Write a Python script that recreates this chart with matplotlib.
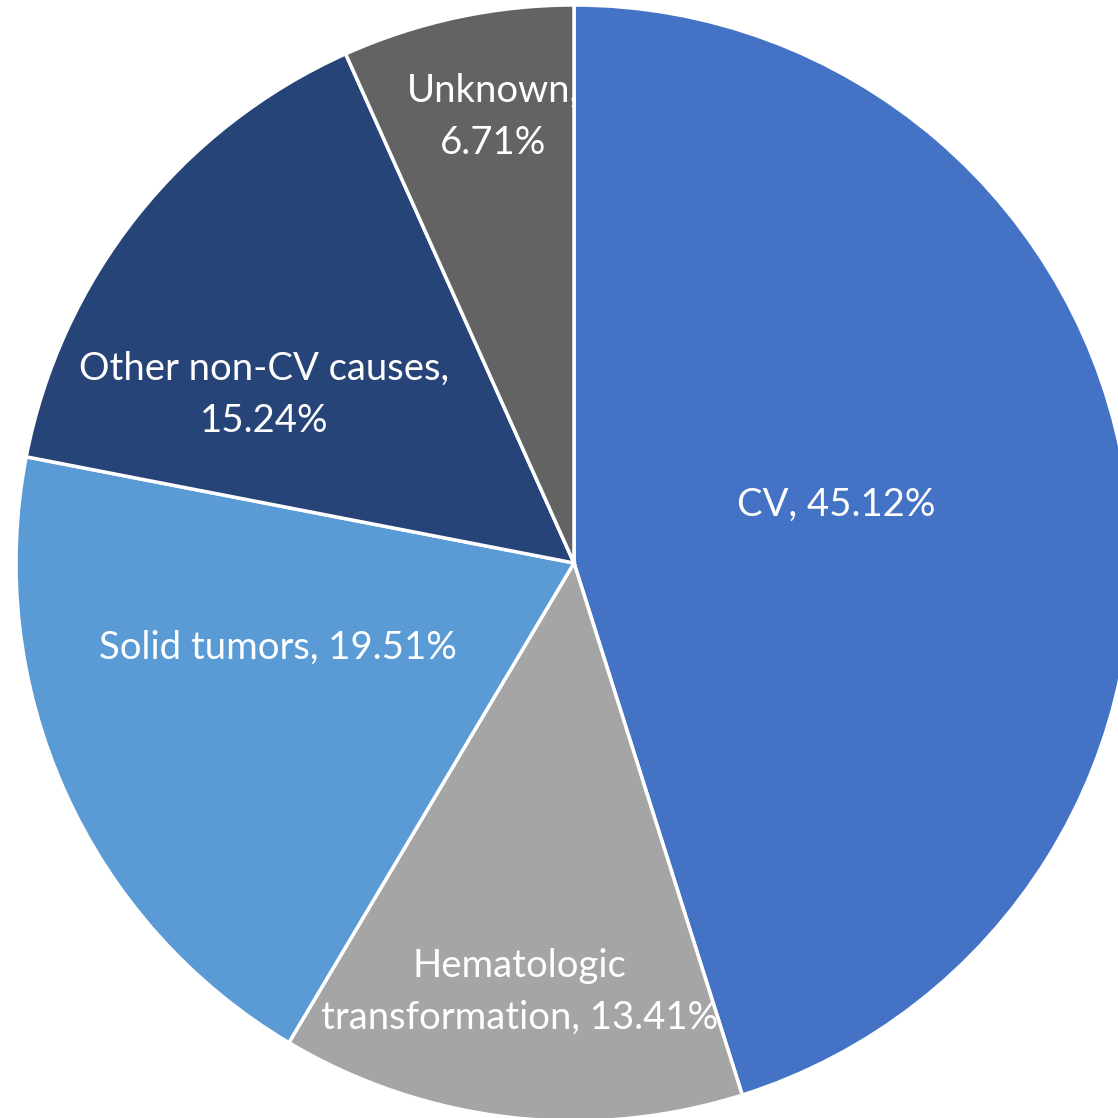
import matplotlib
matplotlib.use("Agg")
import matplotlib.pyplot as plt

# slices, clockwise from 12 o'clock
labels = ["CV", "Hematologic\ntransformation", "Solid tumors", "Other non-CV causes", "Unknown"]
shares = [45.12, 13.41, 19.51, 15.24, 6.71]
colors = ["#4472C4", "#A5A5A5", "#5B9BD5", "#264478", "#636363"]

# label text + where to place it (axes data units, pie radius = 1)
label_text = [
    "CV, 45.12%",
    "Hematologic\ntransformation, 13.41%",
    "Solid tumors, 19.51%",
    "Other non-CV causes,\n15.24%",
    "Unknown,\n6.71%",
]
label_pos = [(0.470, 0.104), (-0.097, -0.769), (-0.530, -0.152), (-0.556, 0.301), (-0.145, 0.80)]

plt.rcParams["font.family"] = ["Lato", "DejaVu Sans"]

W = 1118
fig = plt.figure(figsize=(W / 100, W / 100), dpi=100)
cx, cy, r = 574, 563, 558
ax = fig.add_axes([(cx - r) / W, (W - cy - r) / W, 2 * r / W, 2 * r / W])

ax.pie(
    shares,
    colors=colors,
    startangle=90,
    counterclock=False,
    radius=1.0,
    wedgeprops=dict(edgecolor="white", linewidth=2.5),
)
ax.set_xlim(-1, 1)
ax.set_ylim(-1, 1)
ax.set_aspect("equal")
ax.axis("off")

for txt, (x, y) in zip(label_text, label_pos):
    ax.text(x, y, txt, ha="center", va="center", color="white",
            fontsize=27.5, linespacing=1.55)

fig.savefig("out.png", dpi=100)
